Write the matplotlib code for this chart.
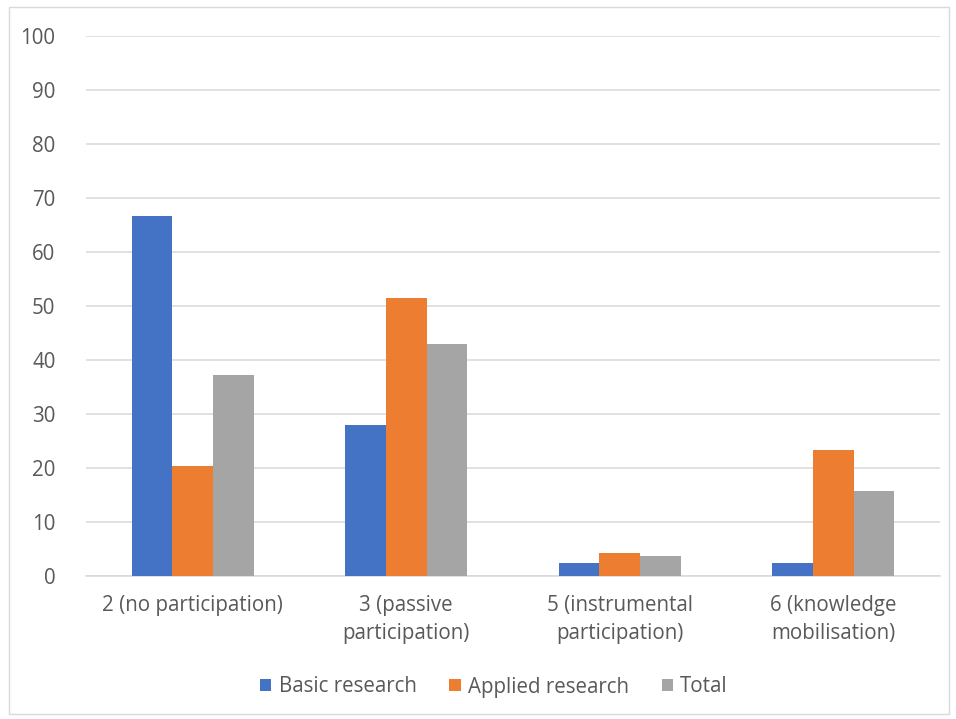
import numpy as np
import matplotlib.pyplot as plt
from matplotlib.patches import Rectangle

plt.rcParams['font.family'] = ['Open Sans', 'DejaVu Sans']

categories = ['2 (no participation)', '3 (passive\nparticipation)',
              '5 (instrumental\nparticipation)', '6 (knowledge\nmobilisation)']
basic = [66.7, 28.0, 2.5, 2.5]
applied = [20.4, 51.5, 4.35, 23.4]
total = [37.3, 42.9, 3.7, 15.7]
series_names = ['Basic research', 'Applied research', 'Total']
colors = ['#4472C4', '#ED7D31', '#A5A5A5']

fig = plt.figure(figsize=(9.56, 7.19), dpi=100)
fig.patches.append(Rectangle((9/956, 1 - 714/719), 940/956, 707/719,
                             transform=fig.transFigure, fill=False,
                             edgecolor='#d9d9d9', linewidth=1))
ax = fig.add_axes([86/956, 1 - 576/719, 854/956, 540/719])

x = np.arange(len(categories))
w = 0.19
for i, (vals, name, c) in enumerate(zip([basic, applied, total], series_names, colors)):
    ax.bar(x + (i - 1) * w, vals, w, color=c, label=name, zorder=3)

ax.set_xlim(-0.5, 3.5)
ax.set_ylim(0, 100)
ax.set_yticks(range(0, 101, 10))
ax.grid(axis='y', color='#d9d9d9', linewidth=1.1, zorder=0)
for s in ['top', 'right', 'left']:
    ax.spines[s].set_visible(False)
ax.spines['bottom'].set_color('#d9d9d9')
ax.spines['bottom'].set_linewidth(1.1)
ax.set_xticks(x)
ax.set_xticklabels(categories, fontsize=14.8, color='#595959', linespacing=1.4)
ax.tick_params(axis='both', length=0, labelcolor='#595959', labelsize=14.8)
ax.tick_params(axis='x', pad=14)
ax.tick_params(axis='y', pad=22)

fig.legend(loc='center', bbox_to_anchor=(494/956, 1 - 687/719), ncol=3,
           frameon=False, fontsize=14.8, labelcolor='#595959',
           handlelength=0.55, handleheight=0.55, handletextpad=0.35,
           columnspacing=1.6)

fig.savefig('out.png', dpi=100)
